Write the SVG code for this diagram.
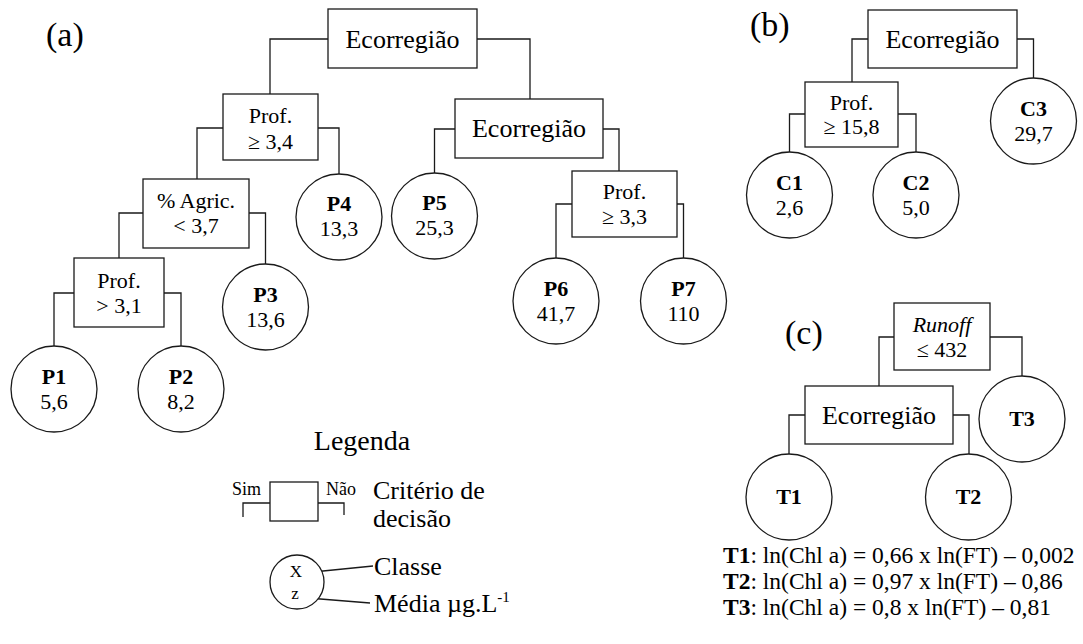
<svg xmlns="http://www.w3.org/2000/svg" width="1083" height="644" viewBox="0 0 1083 644">
<style>
.box{fill:#fff;stroke:#1a1a1a;stroke-width:1.3}
.leaf{fill:#fff;stroke:#1a1a1a;stroke-width:1.3}
.conn path{fill:none;stroke:#1a1a1a;stroke-width:1.3}
text{font-family:"Liberation Serif","Times New Roman",serif;fill:#000;text-anchor:middle}
.big{font-size:26px}
.n{font-size:22px}
.b{font-weight:bold}
.lab{font-size:34px;text-anchor:start}
.l{text-anchor:start}
</style>
<rect width="1083" height="644" fill="#fff"/>

<text class="lab" x="46" y="46">(a)</text>
<text class="lab" x="750" y="36">(b)</text>
<text class="lab" x="785" y="344">(c)</text>

<g class="conn" id="connectors">
<path d="M328,39 H270 V94"/>
<path d="M477,39 H530 V99"/>
<path d="M223,128 H197 V179"/>
<path d="M318,128 H339 V174"/>
<path d="M455,129 H434.5 V173"/>
<path d="M603,129 H619 V171"/>
<path d="M143,213 H119 V258"/>
<path d="M249,213 H265.5 V264"/>
<path d="M74,293 H54 V346"/>
<path d="M164,293 H181 V346"/>
<path d="M572,204 H556 V258"/>
<path d="M677,204 H683.5 V258"/>
<path d="M868,39 H852 V82"/>
<path d="M1017,39 H1033.5 V78"/>
<path d="M805,114 H789.5 V152"/>
<path d="M898,114 H916 V152"/>
<path d="M894,337 H879 V386"/>
<path d="M990,337 H1022 V376"/>
<path d="M805,415 H789 V454"/>
<path d="M953,415 H969 V454"/>
<path d="M270,503 H243 V517"/>
<path d="M318,503 H344 V515"/>
<path d="M313,572 L373,566"/>
<path d="M308,598 L370,603"/>
</g>

<g id="a-root"><rect class="box" x="328" y="9" width="149" height="59"/><text class="big" x="402.5" y="48">Ecorregião</text></g>
<g id="a-prof34"><rect class="box" x="223" y="94" width="95" height="66"/><text class="n" x="270.5" y="123">Prof.</text><text class="n" x="270.5" y="149">≥ 3,4</text></g>
<g id="a-eco2"><rect class="box" x="455" y="99" width="148" height="59"/><text class="big" x="529" y="137">Ecorregião</text></g>
<g id="a-agric"><rect class="box" x="143" y="179" width="106" height="69"/><text class="n" x="196" y="208">% Agric.</text><text class="n" x="196" y="233">&lt; 3,7</text></g>
<g id="a-prof31"><rect class="box" x="74" y="258" width="90" height="69"/><text class="n" x="119" y="288">Prof.</text><text class="n" x="119" y="313">&gt; 3,1</text></g>
<g id="a-prof33"><rect class="box" x="572" y="171" width="105" height="66"/><text class="n" x="624.5" y="199">Prof.</text><text class="n" x="624.5" y="224">≥ 3,3</text></g>

<g id="P1"><circle class="leaf" cx="54" cy="389" r="43"/><text class="n b" x="54" y="384">P1</text><text class="n" x="54" y="409">5,6</text></g>
<g id="P2"><circle class="leaf" cx="181" cy="389" r="43"/><text class="n b" x="181" y="384">P2</text><text class="n" x="181" y="409">8,2</text></g>
<g id="P3"><circle class="leaf" cx="265.5" cy="307" r="43"/><text class="n b" x="265.5" y="302">P3</text><text class="n" x="265.5" y="327">13,6</text></g>
<g id="P4"><circle class="leaf" cx="339" cy="217" r="43"/><text class="n b" x="339" y="211">P4</text><text class="n" x="339" y="236">13,3</text></g>
<g id="P5"><circle class="leaf" cx="434.5" cy="216" r="43"/><text class="n b" x="434.5" y="210">P5</text><text class="n" x="434.5" y="235">25,3</text></g>
<g id="P6"><circle class="leaf" cx="556" cy="301" r="43"/><text class="n b" x="556" y="296">P6</text><text class="n" x="556" y="321">41,7</text></g>
<g id="P7"><circle class="leaf" cx="683.5" cy="301" r="43"/><text class="n b" x="683.5" y="296">P7</text><text class="n" x="683.5" y="321">110</text></g>

<g id="b-root"><rect class="box" x="868" y="10" width="149" height="58"/><text class="big" x="942.5" y="48">Ecorregião</text></g>
<g id="b-prof"><rect class="box" x="805" y="82" width="93" height="65"/><text class="n" x="851.5" y="110">Prof.</text><text class="n" x="851.5" y="134">≥ 15,8</text></g>
<g id="C1"><circle class="leaf" cx="789.5" cy="195" r="43"/><text class="n b" x="789.5" y="190">C1</text><text class="n" x="789.5" y="215">2,6</text></g>
<g id="C2"><circle class="leaf" cx="916" cy="195" r="43"/><text class="n b" x="916" y="190">C2</text><text class="n" x="916" y="215">5,0</text></g>
<g id="C3"><circle class="leaf" cx="1033.5" cy="121" r="43"/><text class="n b" x="1033.5" y="116">C3</text><text class="n" x="1033.5" y="141">29,7</text></g>

<g id="c-runoff"><rect class="box" x="894" y="303" width="96" height="67"/><text class="n" x="942" y="332" font-style="italic">Runoff</text><text class="n" x="942" y="357">≤ 432</text></g>
<g id="c-eco"><rect class="box" x="805" y="386" width="148" height="58"/><text class="big" x="879" y="424">Ecorregião</text></g>
<g id="T1"><circle class="leaf" cx="789" cy="497" r="43"/><text class="n b" x="789" y="504">T1</text></g>
<g id="T2"><circle class="leaf" cx="968.5" cy="497" r="43"/><text class="n b" x="968.5" y="504">T2</text></g>
<g id="T3"><circle class="leaf" cx="1022" cy="419" r="43"/><text class="n b" x="1022" y="426">T3</text></g>

<g id="equations" font-size="23.5">
<text class="l" x="723" y="563"><tspan font-weight="bold">T1</tspan>: ln(Chl a) = 0,66 x ln(FT) – 0,002</text>
<text class="l" x="723" y="589"><tspan font-weight="bold">T2</tspan>: ln(Chl a) = 0,97 x ln(FT) – 0,86</text>
<text class="l" x="723" y="615"><tspan font-weight="bold">T3</tspan>: ln(Chl a) = 0,8 x ln(FT) – 0,81</text>
</g>

<g id="legend">
<text x="362" y="450" font-size="28">Legenda</text>
<rect class="box" x="270" y="482" width="48" height="39"/>
<text class="l" x="232" y="495" font-size="18">Sim</text>
<text class="l" x="326" y="495" font-size="18">Não</text>
<text class="l big" x="373" y="499">Critério de</text>
<text class="l big" x="373" y="527">decisão</text>
<circle class="leaf" cx="297" cy="582" r="27"/>
<text x="296" y="577" font-size="17">X</text>
<text x="295" y="599" font-size="17">z</text>
<text class="l big" x="374" y="575">Classe</text>
<text class="l big" x="374" y="612">Média µg.L<tspan font-size="15" dy="-10">-1</tspan></text>
</g>
</svg>
